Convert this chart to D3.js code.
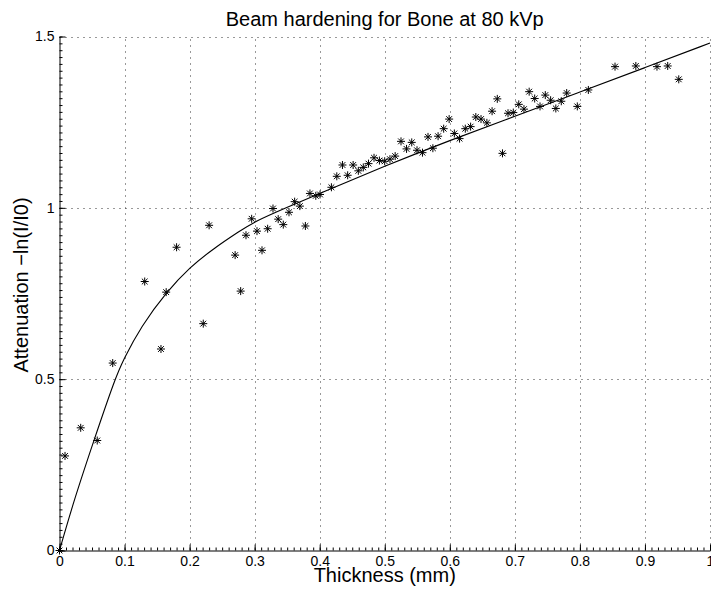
<!DOCTYPE html>
<html>
<head>
<meta charset="utf-8">
<script src="https://cdn.jsdelivr.net/npm/d3@7"></script>
<style>
  body { margin: 0; background: #fff; }
  svg { font-family: "Liberation Sans", Arial, Helvetica, sans-serif; }
</style>
</head>
<body>
<div id="canvas"></div>
<script>
// constants
const width = 711;
const height = 592;
const plotLeft = 59.5, plotRight = 710, plotTop = 36.5, plotBottom = 550.5;

// measured points (thickness mm, attenuation)
const thickness = [0, 0.0085, 0.0326, 0.058, 0.0818, 0.131, 0.156, 0.164, 0.180, 0.221,
  0.230, 0.270, 0.2785, 0.2867, 0.2954, 0.3036, 0.3113, 0.320, 0.3282, 0.3362,
  0.344, 0.3528, 0.3615, 0.3695, 0.378, 0.385, 0.394, 0.4005, 0.418, 0.4263,
  0.435, 0.443, 0.4514, 0.4594, 0.467, 0.475, 0.4835, 0.4918, 0.4999, 0.508,
  0.516, 0.525, 0.5335, 0.5415, 0.5496, 0.558, 0.5665, 0.574, 0.582, 0.5906,
  0.599, 0.607, 0.615, 0.6238, 0.632, 0.640, 0.648, 0.657, 0.665, 0.673,
  0.681, 0.6895, 0.6976, 0.706, 0.714, 0.722, 0.7305, 0.7387, 0.7468, 0.755,
  0.763, 0.7714, 0.7797, 0.796, 0.813, 0.854, 0.886, 0.9185, 0.935, 0.952];
const attenuation = [0, 0.276, 0.358, 0.321, 0.547, 0.785, 0.588, 0.754, 0.885, 0.662,
  0.949, 0.862, 0.757, 0.920, 0.968, 0.932, 0.876, 0.939, 0.998, 0.967,
  0.951, 0.987, 1.018, 1.005, 0.947, 1.042, 1.035, 1.039, 1.060, 1.092,
  1.125, 1.095, 1.125, 1.108, 1.118, 1.129, 1.146, 1.138, 1.136, 1.142,
  1.151, 1.194, 1.172, 1.191, 1.168, 1.161, 1.207, 1.174, 1.209, 1.231,
  1.259, 1.217, 1.202, 1.231, 1.237, 1.265, 1.259, 1.248, 1.282, 1.318,
  1.159, 1.276, 1.278, 1.302, 1.288, 1.339, 1.319, 1.296, 1.329, 1.314,
  1.290, 1.311, 1.335, 1.296, 1.344, 1.412, 1.414, 1.412, 1.414, 1.375];

// fitted curve
const fitX = [0, 0.0228, 0.0535, 0.0853, 0.098, 0.1253, 0.1648, 0.2006, 0.236, 0.2775,
  0.3, 0.349, 0.4, 0.5, 0.6, 0.7, 0.8, 0.9, 1.0];
const fitY = [0, 0.150, 0.325, 0.501, 0.556, 0.654, 0.755, 0.827, 0.880, 0.933,
  0.960, 1.001, 1.042, 1.122, 1.197, 1.267, 1.338, 1.409, 1.481];

const xTicks = [0, 0.1, 0.2, 0.3, 0.4, 0.5, 0.6, 0.7, 0.8, 0.9, 1];
const yTicks = [0, 0.5, 1, 1.5];
const xTickLabels = ['0', '0.1', '0.2', '0.3', '0.4', '0.5', '0.6', '0.7', '0.8', '0.9', '1'];
const yTickLabels = ['0', '0.5', '1', '1.5'];

// scales
const x = d3.scaleLinear().domain([0, 1]).range([plotLeft, plotRight]);
const y = d3.scaleLinear().domain([0, 1.5]).range([plotBottom, plotTop]);

const svg = d3.select('#canvas')
    .append('svg').attr('width', width).attr('height', height);

// dotted grid
svg.append('g').selectAll('line')
    .data(xTicks.slice(1))
    .join('line')
    .attr('x1', d => Math.round(x(d)) + 0.5).attr('x2', d => Math.round(x(d)) + 0.5)
    .attr('y1', plotBottom).attr('y2', plotTop)
    .attr('stroke', '#333').attr('stroke-width', 1).attr('stroke-dasharray', '1,5');
svg.append('g').selectAll('line')
    .data(yTicks.slice(1))
    .join('line')
    .attr('x1', plotLeft).attr('x2', plotRight)
    .attr('y1', d => Math.round(y(d)) + 0.5).attr('y2', d => Math.round(y(d)) + 0.5)
    .attr('stroke', '#333').attr('stroke-width', 1).attr('stroke-dasharray', '1,5');

// minor ticks
svg.append('g')
    .attr('transform', `translate(0,${plotBottom})`)
    .call(d3.axisBottom(x).tickValues(d3.range(0, 101).map(i => i / 100)).tickSize(-3).tickFormat(''))
    .call(g => g.select('.domain').remove());
svg.append('g')
    .attr('transform', `translate(${plotLeft},0)`)
    .call(d3.axisLeft(y).tickValues(d3.range(0, 76).map(i => i / 50)).tickSize(-3).tickFormat(''))
    .call(g => g.select('.domain').remove());

// major axes
const xAxis = d3.axisBottom(x)
    .tickValues(xTicks)
    .tickSize(-6).tickSizeOuter(0).tickPadding(6)
    .tickFormat((d, i) => xTickLabels[i]);
const yAxis = d3.axisLeft(y)
    .tickValues(yTicks)
    .tickSize(-6).tickSizeOuter(0).tickPadding(5)
    .tickFormat((d, i) => yTickLabels[i]);

svg.append('g')
    .attr('class', 'x-axis')
    .attr('transform', `translate(0,${plotBottom})`)
    .call(xAxis)
    .call(g => g.selectAll('text').attr('font-size', 14).attr('fill', '#000'));
svg.append('g')
    .attr('class', 'y-axis')
    .attr('transform', `translate(${plotLeft},0)`)
    .call(yAxis)
    .call(g => g.selectAll('text').attr('font-size', 14).attr('fill', '#000'));
svg.selectAll('.tick line, .domain').attr('stroke', '#000');

// fit line
const fit = fitX.map((d, i) => [d, fitY[i]]);
svg.append('path')
    .datum(fit)
    .attr('fill', 'none')
    .attr('stroke', '#000')
    .attr('stroke-width', 1.1)
    .attr('d', d3.line().x(d => x(d[0])).y(d => y(d[1])).curve(d3.curveBasis));

// star markers
const r = 4;
const star = `M${-r},0H${r}M0,${-r}V${r}M${-r * 0.72},${-r * 0.72}L${r * 0.72},${r * 0.72}M${-r * 0.72},${r * 0.72}L${r * 0.72},${-r * 0.72}`;
svg.append('g').selectAll('path')
    .data(thickness.map((d, i) => [d, attenuation[i]]))
    .join('path')
    .attr('transform', d => `translate(${x(d[0])},${y(d[1])})`)
    .attr('d', star)
    .attr('fill', 'none')
    .attr('stroke', '#000')
    .attr('stroke-width', 1);

// titles
svg.append('text')
    .attr('x', (plotLeft + plotRight) / 2).attr('y', 26)
    .attr('text-anchor', 'middle').attr('font-size', 20)
    .text('Beam hardening for Bone at 80 kVp');
svg.append('text')
    .attr('x', (plotLeft + plotRight) / 2).attr('y', 582)
    .attr('text-anchor', 'middle').attr('font-size', 20)
    .text('Thickness (mm)');
svg.append('text')
    .attr('transform', 'translate(28,285) rotate(-90)')
    .attr('text-anchor', 'middle').attr('font-size', 20)
    .text('Attenuation −ln(I/I0)');
</script>
</body>
</html>
